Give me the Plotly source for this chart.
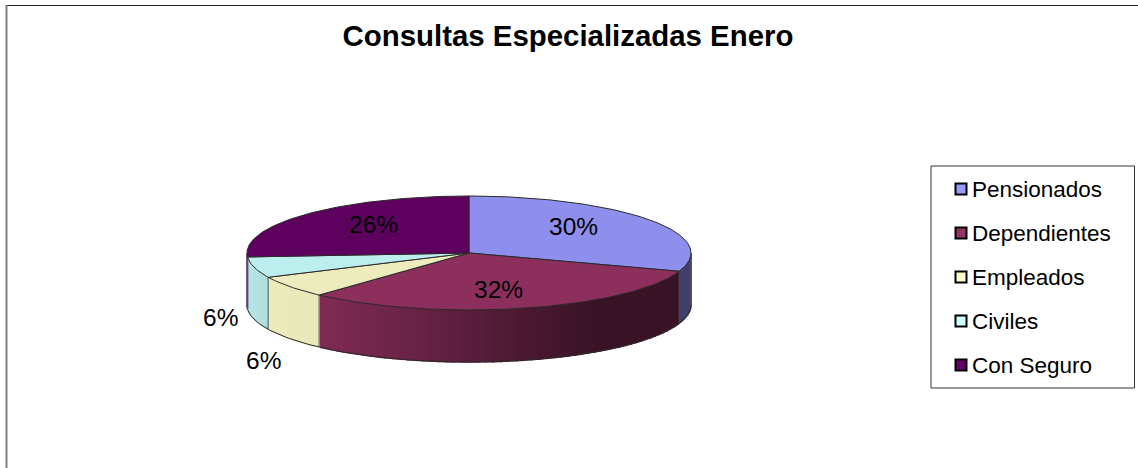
import math
import plotly.graph_objects as go

categories = ["Pensionados", "Dependientes", "Empleados", "Civiles", "Con Seguro"]
shares = [30.2, 31.6, 6.2, 5.9, 26.1]
legend_colors = ["#9999FF", "#993366", "#FFFFCC", "#CCFFFF", "#660066"]
top_colors = ["#8E8EEC", "#8C2F5D", "#ECECBD", "#BDEEEE", "#5E005E"]

# layout constants (pixels of the 1138x468 window)
W, H = 1138, 468
CX, CY, RX, RY, DEPTH = 469, 253, 222, 57, 52
LABEL_POS = [(573, 226), (498, 289), (263, 360), (220, 317), (373, 224)]
KEY_X, KEY_TEXT_X, KEY_Y0, KEY_DY = 961, 972, 189, 44
# side shade: (shade at left end, shade at right end, x at which the right shade is reached)
SIDE_SHADE = [(0.42, 0.42, 680), (0.84, 0.38, 590), (0.92, 0.91, 319), (0.90, 0.86, 268), (0.80, 0.80, 250)]
EDGE = "#2a2a2a"


def pt(theta, dz=0):
    r = math.radians(theta)
    return CX + RX * math.sin(r), CY - RY * math.cos(r) + dz


def arc(a, b, n, dz=0):
    n = max(n, 1)
    return [pt(a + (b - a) * i / n, dz) for i in range(n + 1)]


def shade(hex_c, f):
    v = [int(hex_c[i:i + 2], 16) for i in (1, 3, 5)]
    return "rgb(%d,%d,%d)" % tuple(round(c * f) for c in v)


fig = go.Figure()


def poly(points, fill=None, line=None, width=1):
    xs = [p[0] for p in points]
    ys = [p[1] for p in points]
    fig.add_trace(go.Scatter(
        x=xs, y=ys, mode="lines", fill="toself" if fill else "none",
        fillcolor=fill, line=dict(color=line or fill, width=width),
        showlegend=False, hoverinfo="skip"))


total = sum(shares)
bounds = [0]
for v in shares:
    bounds.append(bounds[-1] + v / total * 360)

# side walls (only the front half, 90..270 degrees, is visible)
for i, c in enumerate(legend_colors):
    a, b = max(bounds[i], 90), min(bounds[i + 1], 270)
    if a >= b:
        continue
    n = max(int((b - a) / 2), 1)
    l, r, xr = SIDE_SHADE[i]
    xl = min(pt(a)[0], pt(b)[0])
    for k in range(n):
        t0 = a + (b - a) * k / n
        t1 = a + (b - a) * (k + 1) / n
        xm = (pt(t0)[0] + pt(t1)[0]) / 2
        u = min(max((xm - xl) / max(xr - xl, 1), 0), 1)
        col = shade(c, l + (r - l) * u)
        poly([pt(t0), pt(t1), pt(t1, DEPTH), pt(t0, DEPTH), pt(t0)], fill=col, line=col, width=1.5)

# side edges
poly(arc(90, 270, 120, DEPTH), line=EDGE)
poly([pt(90), pt(90, DEPTH)], line="#555555")
poly([pt(270), pt(270, DEPTH)], line="#777777")
for t in bounds:
    if 90 < t < 270:
        poly([pt(t), pt(t, DEPTH)], line="#555555")

# top faces
for i, c in enumerate(top_colors):
    a, b = bounds[i], bounds[i + 1]
    poly([(CX, CY)] + arc(a, b, int(b - a) + 2) + [(CX, CY)], fill=c, line=EDGE)

# percentage labels
for v, (lx, ly) in zip(shares, LABEL_POS):
    fig.add_annotation(x=lx, y=ly, text=f"{round(v)}%", showarrow=False, xanchor="center", yanchor="middle",
                       font=dict(family="Liberation Sans", size=24.5, color="#000000"))

# key
for i, (name, c) in enumerate(zip(categories, legend_colors)):
    y = KEY_Y0 + i * KEY_DY
    fig.add_trace(go.Scatter(
        x=[KEY_X], y=[y], mode="markers", name=name, showlegend=False, cliponaxis=False,
        marker=dict(symbol="square", size=11, color=c, line=dict(color="#000000", width=2))))
    fig.add_annotation(x=KEY_TEXT_X, y=y, text=name, showarrow=False, xanchor="left", yanchor="middle",
                       xshift=-2, font=dict(family="Liberation Sans", size=22.5, color="#000000"))

# chart frame and key box
fig.add_shape(type="line", x0=6, x1=W, y0=5.5, y1=5.5, line=dict(color="#222222", width=1), layer="below")
fig.add_shape(type="line", x0=6.5, x1=6.5, y0=5, y1=H, line=dict(color="#808080", width=2), layer="below")
fig.add_shape(type="rect", x0=931, x1=1134.5, y0=166, y1=388, line=dict(color="#333333", width=1),
              fillcolor="#FFFFFF", layer="below")

fig.update_layout(
    width=W, height=H, autosize=False,
    margin=dict(l=0, r=0, t=0, b=0),
    paper_bgcolor="#FFFFFF", plot_bgcolor="#FFFFFF",
    showlegend=False,
    xaxis=dict(range=[0, W], visible=False, fixedrange=True),
    yaxis=dict(range=[H, 0], visible=False, fixedrange=True),
    title=dict(text="<b>Consultas Especializadas Enero</b>", x=568 / W,
               y=1 - 36 / H, xanchor="center", yanchor="middle",
               font=dict(family="Liberation Sans", size=29.4, color="#000000")),
)

fig.write_html("out.html", config={"displayModeBar": False},
               post_script="document.documentElement.style.overflow='hidden';document.body.style.margin='0';")
